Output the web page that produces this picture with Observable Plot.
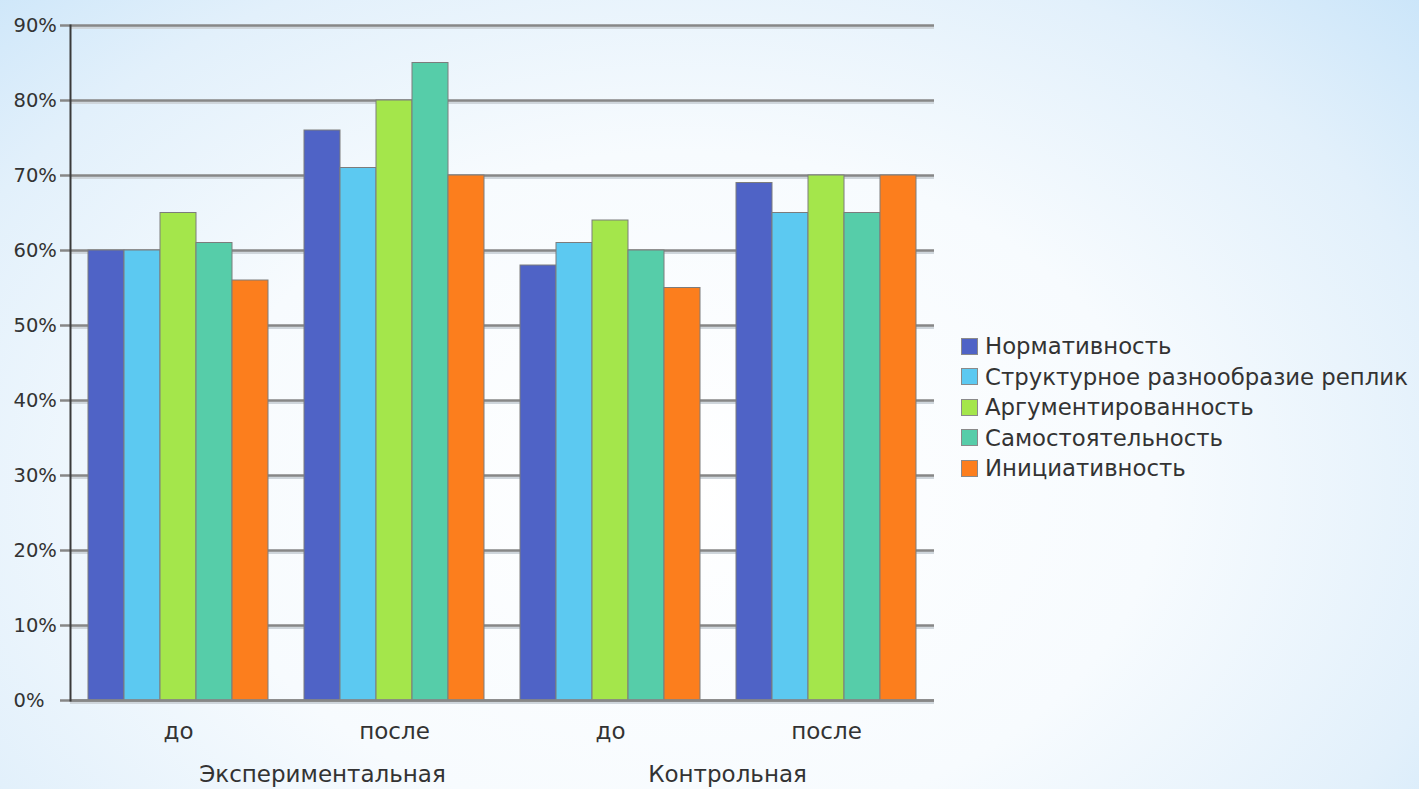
<!DOCTYPE html>
<html>
<head>
<meta charset="utf-8">
<script src="https://cdn.jsdelivr.net/npm/d3@7"></script>
<script src="https://cdn.jsdelivr.net/npm/@observablehq/plot@0.6"></script>
<style>
  html, body { margin: 0; padding: 0; width: 1419px; height: 789px; overflow: hidden; }
  body {
    font-family: "DejaVu Sans", sans-serif;
    background: radial-gradient(ellipse 75% 95% at 48% 62%, #ffffff 0%, #f7fbfe 45%, #e2f0fb 75%, #c6e3f9 100%);
    position: relative;
  }
  #chart { position: absolute; left: 0; top: 0; }
  #legend { position: absolute; left: 961px; top: 331px; font-size: 22.8px; color: #333; }
  .row { display: flex; align-items: center; height: 30.5px; white-space: nowrap; }
  .sw { width: 15px; height: 15px; border: 1px solid #8a8a8a; margin-right: 7px; }
</style>
</head>
<body>
<div id="chart"></div>
<div id="legend"></div>
<script>
const groups = ["Экспериментальная|до", "Экспериментальная|после", "Контрольная|до", "Контрольная|после"];
const groupLabels = ["Экспериментальная", "Контрольная"];
const series = ["Нормативность", "Структурное разнообразие реплик", "Аргументированность", "Самостоятельность", "Инициативность"];
const colors = ["#4f63c6", "#5cc9f1", "#a4e64b", "#56cda9", "#fc7e1d"];
const normativnost = [60, 76, 58, 69];
const strukturnoe = [60, 71, 61, 65];
const argumentirovannost = [65, 80, 64, 70];
const samostoyatelnost = [61, 85, 60, 65];
const iniciativnost = [56, 70, 55, 70];
const yTicks = [0, 10, 20, 30, 40, 50, 60, 70, 80, 90];

const seriesValues = [normativnost, strukturnoe, argumentirovannost, samostoyatelnost, iniciativnost];
const data = [];
series.forEach((s, i) => groups.forEach((g, j) => data.push({series: s, group: g, value: seriesValues[i][j]})));

const plot = Plot.plot({
  width: 940,
  height: 789,
  marginLeft: 70,
  marginRight: 6,
  marginTop: 25,
  marginBottom: 89,
  style: {background: "transparent", fontFamily: "DejaVu Sans, sans-serif", color: "#333"},
  fx: {domain: groups, padding: 0, label: null},
  x: {domain: series, paddingInner: 0, paddingOuter: 0.5, axis: null},
  y: {domain: [0, 90], axis: null, label: null},
  color: {domain: series, range: colors},
  marks: [
    Plot.ruleY(yTicks, {stroke: "#cfd6dc", strokeWidth: 3, dy: 2}),
    Plot.ruleY(yTicks, {stroke: "#878787", strokeWidth: 2.5}),
    Plot.barY(data, {fx: "group", x: "series", y: "value", fill: "series", stroke: "#7c7c7c", strokeWidth: 1}),
    Plot.ruleY([0], {stroke: "#878787", strokeWidth: 2.5}),
    Plot.axisY({ticks: yTicks, tickSize: 10, text: null, label: null, stroke: "#878787", strokeWidth: 2.5}),
    Plot.axisY({ticks: yTicks, tickSize: 0, tickPadding: 57, textAnchor: "start", label: null, tickFormat: d => d + "%", fontSize: 19.5, fill: "#333"}),
    Plot.frame({anchor: "left", fx: groups[0], stroke: "#3a3a3a", strokeWidth: 2}),
    Plot.axisFx({anchor: "bottom", tickSize: 0, tickPadding: 22, fontSize: 23, fill: "#333", label: null, tickFormat: d => d.split("|")[1]}),
    Plot.text([groupLabels[0]], {fx: d => d + "|после", text: d => d, frameAnchor: "bottom-left", textAnchor: "middle", dy: 81, dx: 36, fontSize: 23, fill: "#333"}),
    Plot.text([groupLabels[1]], {fx: d => d + "|после", text: d => d, frameAnchor: "bottom-left", textAnchor: "middle", dy: 81, dx: 9, fontSize: 23, fill: "#333"})
  ]
});
document.getElementById("chart").appendChild(plot);

const legend = document.getElementById("legend");
series.forEach((s, i) => {
  const row = document.createElement("div");
  row.className = "row";
  const sw = document.createElement("div");
  sw.className = "sw";
  sw.style.background = colors[i];
  const t = document.createElement("span");
  t.textContent = s;
  row.appendChild(sw);
  row.appendChild(t);
  legend.appendChild(row);
});
</script>
</body>
</html>
